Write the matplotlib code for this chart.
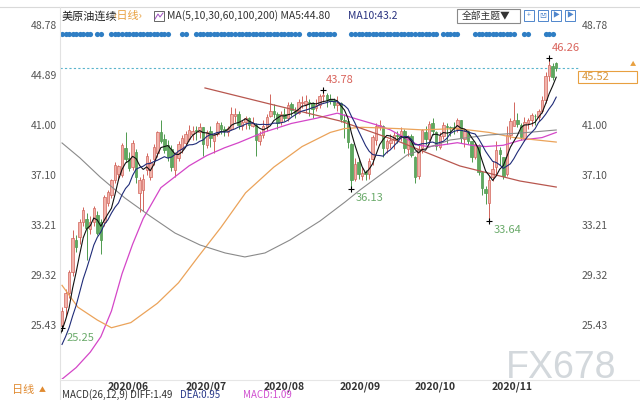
import numpy as np
import pandas as pd
import matplotlib
matplotlib.use("Agg")
import matplotlib.pyplot as plt
import matplotlib.transforms as mtransforms
from matplotlib.patches import Rectangle

plt.rcParams['font.family'] = ['Noto Sans CJK SC', 'DejaVu Sans']

# =========================
# Data (daily candles, 2020/05/12 - 2020/11/27)
# =========================
pre_close = [22.0, 22.6, 23.2, 23.4, 23.3, 24.0, 24.9, 24.6, 25.4]

opens = [25.45, 26.9, 28.0, 29.6, 32.1, 32.4, 33.5, 33.8, 33.0, 33.5,
         34.1, 33.5, 33.5, 35.0, 35.6, 36.8, 37.3, 37.2, 39.3, 38.5,
         37.8, 39.0, 35.8, 36.0, 37.6, 37.0, 38.4, 38.9, 40.5, 40.0,
         39.5, 39.2, 37.6, 38.5, 39.2, 39.7, 40.0, 40.4, 40.7, 40.5,
         40.9, 39.5, 40.6, 39.8, 40.4, 41.1, 40.8, 40.5, 40.8, 41.8,
         41.9, 41.0, 41.3, 41.6, 41.0, 41.1, 39.8, 40.3, 40.9, 41.8,
         42.2, 41.9, 41.3, 41.9, 41.6, 42.7, 42.2, 42.0, 42.8, 42.7,
         42.9, 42.8, 42.4, 42.6, 43.3, 43.4, 43.1, 43.0, 42.6, 42.8,
         41.5, 41.4, 39.6, 36.9, 38.2, 37.1, 37.4, 37.3, 38.4, 39.9,
         40.9, 41.0, 39.3, 39.7, 39.9, 40.3, 40.2, 40.6, 39.2, 40.2,
         38.6, 37.1, 39.3, 40.5, 40.0, 41.2, 40.5, 39.4, 40.2, 41.0,
         40.9, 40.9, 40.8, 41.5, 40.0, 40.6, 39.8, 38.6, 39.5, 37.4,
         36.1, 35.0, 37.0, 37.8, 39.1, 38.6, 37.3, 40.3, 41.0, 41.5,
         41.1, 40.1, 41.2, 41.5, 41.8, 41.7, 42.2, 43.0, 44.9, 45.7, 45.9]

highs = [26.9, 28.3, 29.8, 32.9, 32.5, 33.8, 34.7, 34.2, 34.0, 34.8,
         34.4, 33.8, 35.6, 36.0, 36.9, 38.2, 38.0, 39.7, 40.5, 39.0,
         39.9, 39.2, 37.0, 37.3, 38.9, 38.4, 39.6, 40.6, 41.5, 40.4,
         39.9, 39.5, 39.0, 39.8, 40.3, 40.6, 41.1, 41.0, 41.0, 41.2,
         40.9, 40.7, 41.0, 40.4, 41.4, 41.3, 41.0, 41.0, 42.5, 42.4,
         42.2, 41.5, 41.8, 41.7, 41.7, 41.2, 40.6, 41.5, 41.9, 43.5,
         42.7, 42.1, 42.2, 42.4, 42.9, 42.9, 42.5, 43.1, 43.3, 43.4,
         43.1, 42.9, 43.1, 43.5, 43.78, 43.6, 43.5, 43.2, 43.3, 42.9,
         41.9, 41.6, 39.7, 38.5, 38.5, 37.8, 37.6, 38.5, 40.3, 41.2,
         41.5, 41.1, 40.0, 40.4, 40.5, 40.6, 40.9, 40.8, 40.3, 40.4,
         38.7, 39.6, 40.8, 41.0, 41.4, 41.6, 40.6, 40.5, 41.3, 41.2,
         41.0, 41.3, 41.6, 41.5, 40.8, 40.7, 39.8, 39.7, 39.6, 37.4,
         36.3, 37.1, 38.3, 39.8, 39.4, 38.6, 41.0, 41.6, 42.9, 42.0,
         41.2, 41.7, 41.6, 42.0, 41.9, 42.3, 43.3, 45.2, 46.26, 45.9, 46.0]

lows = [25.25, 26.2, 27.6, 29.3, 31.2, 31.8, 33.2, 30.6, 32.6, 33.2,
        32.5, 31.0, 33.2, 34.8, 35.4, 36.6, 36.8, 37.0, 38.2, 37.5,
        37.6, 36.6, 34.3, 34.4, 37.2, 36.8, 38.0, 38.6, 39.7, 38.9,
        38.3, 37.5, 37.0, 38.3, 38.9, 39.5, 39.8, 39.9, 39.9, 40.1,
        38.7, 39.3, 39.4, 38.9, 40.2, 40.4, 40.2, 40.2, 40.7, 41.3,
        40.8, 40.7, 40.8, 40.8, 40.9, 38.7, 39.5, 40.1, 40.6, 41.7,
        41.6, 40.8, 41.1, 41.4, 41.4, 41.8, 41.6, 41.9, 42.4, 42.0,
        41.8, 41.6, 42.2, 42.4, 42.9, 42.5, 42.7, 42.4, 42.2, 41.3,
        40.1, 39.3, 36.13, 36.7, 36.9, 36.8, 36.8, 36.9, 38.0, 39.5,
        40.7, 38.6, 38.9, 39.3, 39.2, 39.7, 39.8, 38.9, 38.7, 38.6,
        36.6, 36.9, 38.9, 39.5, 39.8, 40.3, 39.1, 39.2, 40.0, 39.6,
        40.2, 40.4, 40.5, 39.7, 39.4, 39.6, 38.2, 38.4, 37.2, 35.6,
        34.9, 33.64, 36.7, 37.3, 38.0, 36.9, 37.1, 40.0, 41.0, 40.9,
        39.9, 39.8, 40.8, 41.0, 41.1, 41.4, 42.0, 42.8, 44.5, 44.6, 45.3]

closes = [26.6, 28.0, 29.6, 32.3, 31.6, 33.5, 34.5, 33.1, 33.5, 34.6,
          32.7, 32.1, 35.5, 35.9, 36.8, 38.0, 37.9, 39.5, 38.4, 37.7,
          39.7, 37.0, 36.8, 36.9, 38.7, 38.2, 39.4, 40.5, 39.8, 39.1,
          38.6, 37.8, 38.8, 39.6, 40.1, 40.4, 40.65, 40.63, 40.62, 40.90,
          39.62, 40.55, 40.10, 40.29, 41.20, 40.75, 40.59, 40.81, 41.96, 41.90,
          41.07, 41.29, 41.60, 41.04, 41.27, 39.92, 40.27, 41.01, 41.70, 42.19,
          41.95, 41.22, 41.94, 41.61, 42.67, 42.24, 42.01, 42.89, 42.89, 42.93,
          42.82, 42.34, 42.62, 43.35, 43.39, 43.04, 42.97, 42.61, 42.76, 41.51,
          41.37, 39.77, 36.76, 38.05, 37.30, 37.33, 37.26, 38.28, 40.16, 40.97,
          41.11, 39.31, 39.80, 39.93, 40.31, 40.25, 40.60, 39.29, 40.22, 38.72,
          37.05, 39.22, 40.67, 39.95, 41.19, 40.60, 39.43, 40.20, 41.04, 40.96,
          40.88, 40.83, 41.46, 40.03, 40.64, 39.85, 38.56, 39.57, 37.39, 36.17,
          35.79, 36.81, 37.66, 39.15, 38.79, 37.14, 40.29, 41.36, 41.45, 41.12,
          40.13, 41.34, 41.43, 41.82, 41.74, 42.15, 43.06, 44.91, 45.71, 44.80, 45.52]

# long moving averages (candle index, value)
ma30_idx = [0, 4, 8, 11, 14, 17, 20, 23, 28, 36, 41, 46, 50, 57, 65, 72, 78, 84,
            89, 93, 97, 101, 104, 107, 112, 116, 120, 125, 130, 136, 140]
ma30_val = [21.3, 22.2, 23.4, 24.6, 26.6, 29.5, 31.8, 33.8, 36.2, 37.9, 38.7, 39.3,
            39.7, 40.5, 41.2, 41.6, 42.0, 41.5, 41.1, 40.7, 40.1, 39.5, 39.4, 39.5,
            39.7, 39.5, 39.4, 39.5, 39.9, 40.1, 40.5]
ma60_idx = [0, 4.5, 10, 14, 19.5, 27, 33, 38.5, 45, 52, 60, 68, 76, 80, 85, 95,
            102, 112, 121, 128, 140]
ma60_val = [28.6, 26.9, 25.9, 25.3, 25.7, 27.2, 28.8, 30.8, 33.1, 35.8, 37.8, 39.4,
            40.5, 40.8, 40.9, 40.8, 40.7, 40.8, 40.5, 40.1, 39.75]
ma100_idx = [0, 5.1, 10.8, 17.8, 24.9, 32, 39.1, 46.2, 51.8, 57.5, 64.6, 73.1,
             80.2, 84.4, 92.1, 97.7, 104.2, 109.9, 120.7, 130.3, 140]
ma100_val = [39.68, 38.51, 37.03, 35.40, 34.00, 32.67, 31.74, 31.12, 30.81, 31.12,
             32.13, 33.61, 35.09, 36.02, 37.58, 38.74, 39.37, 39.91, 40.30, 40.46, 40.69]
ma200_idx = [40.5, 58.9, 78.8, 95.8, 112.7, 129.7, 140]
ma200_val = [43.96, 42.71, 41.39, 39.75, 37.89, 36.72, 36.25]

y_ticks = [25.43, 29.32, 33.21, 37.10, 41.00, 44.89, 48.78]
month_labels = ["2020/06", "2020/07", "2020/08", "2020/09", "2020/10", "2020/11"]
month_idx = [13, 35, 57, 78.5, 100, 121.8]

dot_segments = [(0, 8), (10, 11), (14, 30), (34, 35), (38, 67), (70, 77),
                (82, 106), (108, 112), (117, 128), (131, 132), (137, 139)]

extremes = [(0, 25.25, "25.25", "low"), (74, 43.78, "43.78", "high"),
            (82, 36.13, "36.13", "low"), (121, 33.64, "33.64", "low"),
            (138, 46.26, "46.26", "high")]
last_price = 45.52

# =========================
# Figure
# =========================
W, H = 640, 400
fig = plt.figure(figsize=(6.4, 4.0), dpi=100)


def fx(px):
    return px / W


def fy(py):
    return 1 - py / H


def price(py):
    return 41.0 - (py - 126) / 12.85


ax = fig.add_axes([fx(60), fy(379), fx(510), (379 - 8) / H])
ax.set_xlim(-0.57, 143.9)
ax.set_ylim(price(379), price(8))
ax.axis('off')

UP_FACE, UP_EDGE = '#f2b3ab', '#d2665c'
DN_FACE, DN_EDGE = '#5fa85f', '#4e9a4e'

o = np.array(opens)
h = np.array(highs)
l = np.array(lows)
c = np.array(closes)
x = np.arange(len(c))
up = c >= o

ax.vlines(x[up], l[up], h[up], color=UP_EDGE, lw=0.7, zorder=2)
ax.vlines(x[~up], l[~up], h[~up], color=DN_EDGE, lw=0.7, zorder=2)
body = np.maximum(np.abs(c - o), 0.04)
ax.bar(x[up], body[up], bottom=o[up], width=0.7, color=UP_FACE,
       edgecolor=UP_EDGE, linewidth=0.5, zorder=3)
ax.bar(x[~up], body[~up], bottom=c[~up], width=0.7, color=DN_FACE,
       edgecolor=DN_EDGE, linewidth=0.5, zorder=3)

# moving averages
all_close = pd.Series(pre_close + closes)
xx = np.arange(-len(pre_close), len(closes))
ax.plot(xx, all_close.rolling(5).mean(), color='#111111', lw=0.8, zorder=5)
ax.plot(xx, all_close.rolling(10).mean(), color='#1f2b78', lw=0.8, zorder=5)
ax.plot(ma30_idx, ma30_val, color='#d446c8', lw=0.9, zorder=4)
ax.plot(ma60_idx, ma60_val, color='#eba35a', lw=0.9, zorder=4)
ax.plot(ma100_idx, ma100_val, color='#8a8a8a', lw=0.8, zorder=4)
ax.plot(ma200_idx, ma200_val, color='#b8574f', lw=0.9, zorder=4)

# extremes
for i, v, txt, kind in extremes:
    ax.plot(i, v, marker='+', color='k', ms=5, mew=0.8, zorder=6)
    if kind == "high":
        ax.annotate(txt, (i, v), xytext=(2, 4), textcoords='offset points',
                    ha='left', va='bottom', fontsize=8, color='#d9645c')
    else:
        ax.annotate(txt, (i, v), xytext=(3, -3), textcoords='offset points',
                    ha='left', va='top', fontsize=8, color='#6aaa6a')

# blue event dots
dots = [k for a, b in dot_segments for k in range(a, b + 1)]
ax.scatter(dots, [price(34)] * len(dots), s=14, color='#2f7ec4', zorder=6,
           linewidths=0)

# y labels on both sides
ylab = mtransforms.blended_transform_factory(fig.transFigure, ax.transData)
for v in y_ticks:
    fig.text(fx(57), v, f"{v:.2f}", transform=ylab, ha='right', va='center',
             fontsize=7.5, color='#555555')
    if v != 44.89:
        fig.text(fx(582), v, f"{v:.2f}", transform=ylab, ha='left',
                 va='center', fontsize=7.5, color='#555555')

# last price line and box
ax.plot([fx(60), fx(578)], [last_price, last_price], transform=ylab,
        color='#5ab4cc', lw=0.8, ls=(0, (2, 2)), clip_on=False, zorder=1)
fig.patches.append(Rectangle((fx(578), fy(83)), fx(59), 12 / H,
                             transform=fig.transFigure, facecolor='white',
                             edgecolor='#e8a040', lw=0.8))
fig.text(fx(582), fy(77), f"{last_price:.2f}", ha='left', va='center',
         fontsize=8, color='#d8963a')
fig.text(fx(633), fy(64), "▲", ha='center', va='center', fontsize=4.5,
         color='#e8a040')

# frame lines
fig.add_artist(plt.Line2D([0, 1], [fy(7), fy(7)], color='#d9d9d9', lw=0.8))
fig.add_artist(plt.Line2D([fx(60), fx(60)], [fy(7), 0], color='#e2e2e2',
                          lw=0.8))
fig.add_artist(plt.Line2D([fx(60), 1], [fy(380), fy(380)], color='#e6e6e6',
                          lw=0.8))

# header
fig.text(fx(62), fy(16), "美原油连续", fontsize=8, color='#222222', va='center')
fig.text(fx(114), fy(16), "‹日线›", fontsize=8, color='#e8a040', va='center')
fig.patches.append(Rectangle((fx(154), fy(21)), fx(10), 10 / H,
                             transform=fig.transFigure, facecolor='white',
                             edgecolor='#666666', lw=0.7))
fig.add_artist(plt.Line2D([fx(155), fx(158), fx(160), fx(163)],
                          [fy(19), fy(14), fy(17), fy(13)],
                          color='#a050c0', lw=0.7))
fig.text(fx(167), fy(16), "MA(5,10,30,60,100,200) MA5:44.80", fontsize=7.5,
         color='#333333', va='center')
fig.text(fx(348), fy(16), "MA10:43.2", fontsize=7.5, color='#2a3380',
         va='center')
fig.patches.append(Rectangle((fx(457), fy(23)), fx(63), 14 / H,
                             transform=fig.transFigure, facecolor='white',
                             edgecolor='#8a8a8a', lw=0.8))
fig.text(fx(462), fy(16), "全部主题▼", fontsize=7, color='#333333',
         va='center')
for k, g in enumerate(["+", "凹", "▶", "▶"]):
    x0 = 524 + k * 13.5
    fig.patches.append(Rectangle((fx(x0), fy(21)), fx(10), 11 / H,
                                 transform=fig.transFigure,
                                 facecolor='white', edgecolor='#4f86cc',
                                 lw=0.7))
    fig.text(fx(x0 + 5), fy(15.5), g, fontsize=5, color='#4f86cc',
             ha='center', va='center')

# bottom strip
fig.text(fx(12), fy(390), "日线", fontsize=8, color='#e08a30', va='center')
fig.text(fx(39), fy(390), "▲", fontsize=5, color='#e08a30', va='center')
xlab = mtransforms.blended_transform_factory(ax.transData, fig.transFigure)
for lab, i in zip(month_labels, month_idx):
    fig.text(i, fy(387), lab, transform=xlab, ha='left', va='center',
             fontsize=7.5, color='#333333', fontweight='bold')
fig.text(fx(62), fy(395), "MACD(26,12,9) DIFF:1.49", fontsize=7,
         color='#333333', va='center')
fig.text(fx(180), fy(395), "DEA:0.95", fontsize=7, color='#2a3a8a',
         va='center')
fig.text(fx(243), fy(395), "MACD:1.09", fontsize=7, color='#d050d0',
         va='center')

# watermark
fig.text(fx(561), fy(368), "FX678", fontsize=27, color='#d3d8dc',
         ha='center', va='center', family='Liberation Sans')

fig.savefig("out.png", dpi=100)
